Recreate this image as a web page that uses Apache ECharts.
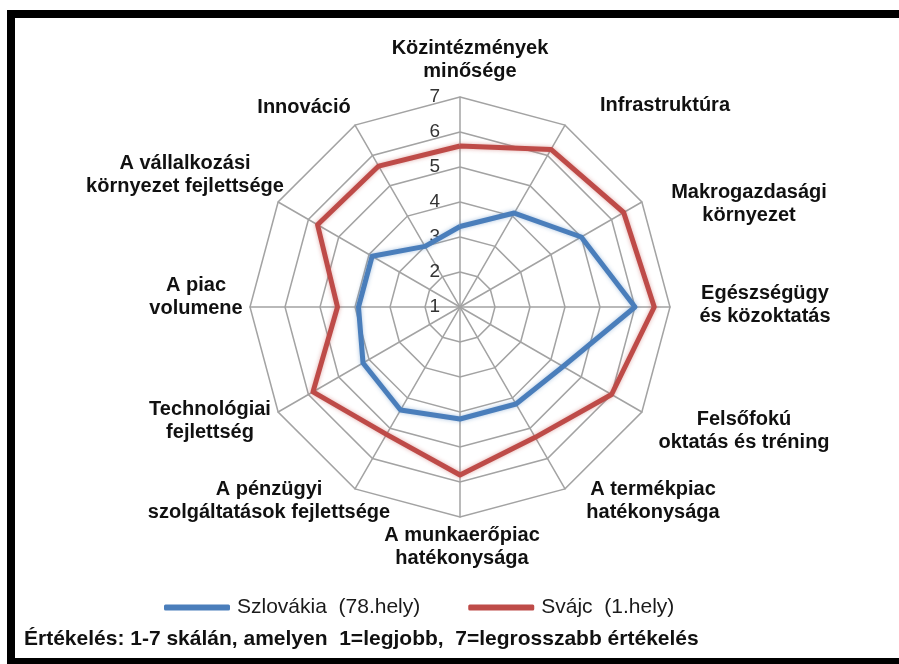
<!DOCTYPE html>
<html>
<head>
<meta charset="utf-8">
<title>Versenyképesség radar</title>
<script src="https://cdn.jsdelivr.net/npm/echarts@6/dist/echarts.min.js"></script>
<style>
  html, body { margin: 0; padding: 0; background: #fff; }
  #chart { width: 899px; height: 664px; }
</style>
</head>
<body>
<div id="chart"></div>
<script>
// pillérek, az óramutató járásával egyezően, felülről
const categories = [
  'Közintézmények\nminősége',
  'Infrastruktúra',
  'Makrogazdasági\nkörnyezet',
  'Egészségügy\nés közoktatás',
  'Felsőfokú\noktatás és tréning',
  'A termékpiac\nhatékonysága',
  'A munkaerőpiac\nhatékonysága',
  'A pénzügyi\nszolgáltatások fejlettsége',
  'Technológiai\nfejlettség',
  'A piac\nvolumene',
  'A vállalkozási\nkörnyezet fejlettsége',
  'Innováció'
]
const slovakia = [3.3, 4.1, 5.0, 6.0, 4.4, 4.2, 4.2, 4.4, 4.2, 3.9, 3.9, 3.0]
const switzerland = [5.6, 6.2, 6.4, 6.55, 6.0, 5.3, 5.8, 5.2, 5.85, 4.5, 5.7, 5.65]
const seriesNames = ['Szlovákia  (78.hely)', 'Svájc  (1.hely)']
const scaleMin = 1
const scaleMax = 7
const footnote = 'Értékelés: 1-7 skálán, amelyen  1=legjobb,  7=legrosszabb értékelés'

// felirat helyek (csak elrendezés)
const labelPos = [
  [470, 60], [665, 105], [749, 204], [765, 305], [744, 431], [653, 501],
  [462, 547], [269, 501], [210, 421], [196, 297], [185, 175], [304, 107]
]

// az echarts radar az óramutatóval ellentétesen halad, ezért megfordítjuk
const ccw = arr => [arr[0]].concat(arr.slice(1).reverse())

const font = '"Liberation Sans", Arial, sans-serif'
const chartDom = echarts.init(document.getElementById('chart'))

const labels = categories.map((name, i) => ({
  type: 'text',
  x: labelPos[i][0],
  y: labelPos[i][1],
  style: {
    text: name,
    align: 'center',
    verticalAlign: 'middle',
    font: 'bold 20px ' + font,
    lineHeight: 23,
    fill: '#111'
  }
}))

chartDom.setOption({
  animation: false,
  backgroundColor: '#fff',
  color: ['#4a7ebb', '#be4b48'],
  legend: {
    left: 159,
    top: 592,
    itemWidth: 66,
    itemHeight: 6,
    itemGap: 48,
    icon: 'roundRect',
    data: seriesNames,
    textStyle: {
      fontFamily: font,
      fontSize: 21,
      color: '#1a1a1a',
      padding: [0, 0, 0, 2]
    }
  },
  radar: {
    center: [460, 307],
    radius: 210,
    startAngle: 90,
    shape: 'polygon',
    splitNumber: 6,
    indicator: ccw(categories).map((name, i) => ({
      name: name,
      min: scaleMin,
      max: scaleMax,
      axisLabel: { show: i === 0 }
    })),
    axisName: { show: false },
    axisTick: { show: false },
    axisLabel: {
      show: false,
      margin: 20,
      color: '#333',
      fontSize: 19,
      fontFamily: font
    },
    axisLine: {
      lineStyle: { color: '#a3a3a3', width: 1.5 }
    },
    splitLine: {
      lineStyle: { color: '#a3a3a3', width: 1.5 }
    },
    splitArea: { show: false }
  },
  series: [
    {
      type: 'radar',
      symbol: 'none',
      data: [
        {
          name: seriesNames[0],
          value: ccw(slovakia),
          lineStyle: {
            width: 5,
            color: '#4a7ebb',
            shadowColor: 'rgba(74,126,187,0.45)',
            shadowBlur: 4
          }
        },
        {
          name: seriesNames[1],
          value: ccw(switzerland),
          lineStyle: {
            width: 5,
            color: '#be4b48',
            shadowColor: 'rgba(190,75,72,0.45)',
            shadowBlur: 4
          }
        }
      ]
    }
  ],
  graphic: [
    // fekete keret
    {
      type: 'rect',
      shape: { x: 11, y: 14, width: 920, height: 648 },
      style: { fill: null, stroke: '#000', lineWidth: 8 },
      silent: true
    },
    {
      type: 'text',
      left: 24,
      top: 629,
      style: {
        text: footnote,
        font: 'bold 21px ' + font,
        fill: '#111'
      }
    }
  ].concat(labels)
})
</script>
</body>
</html>
